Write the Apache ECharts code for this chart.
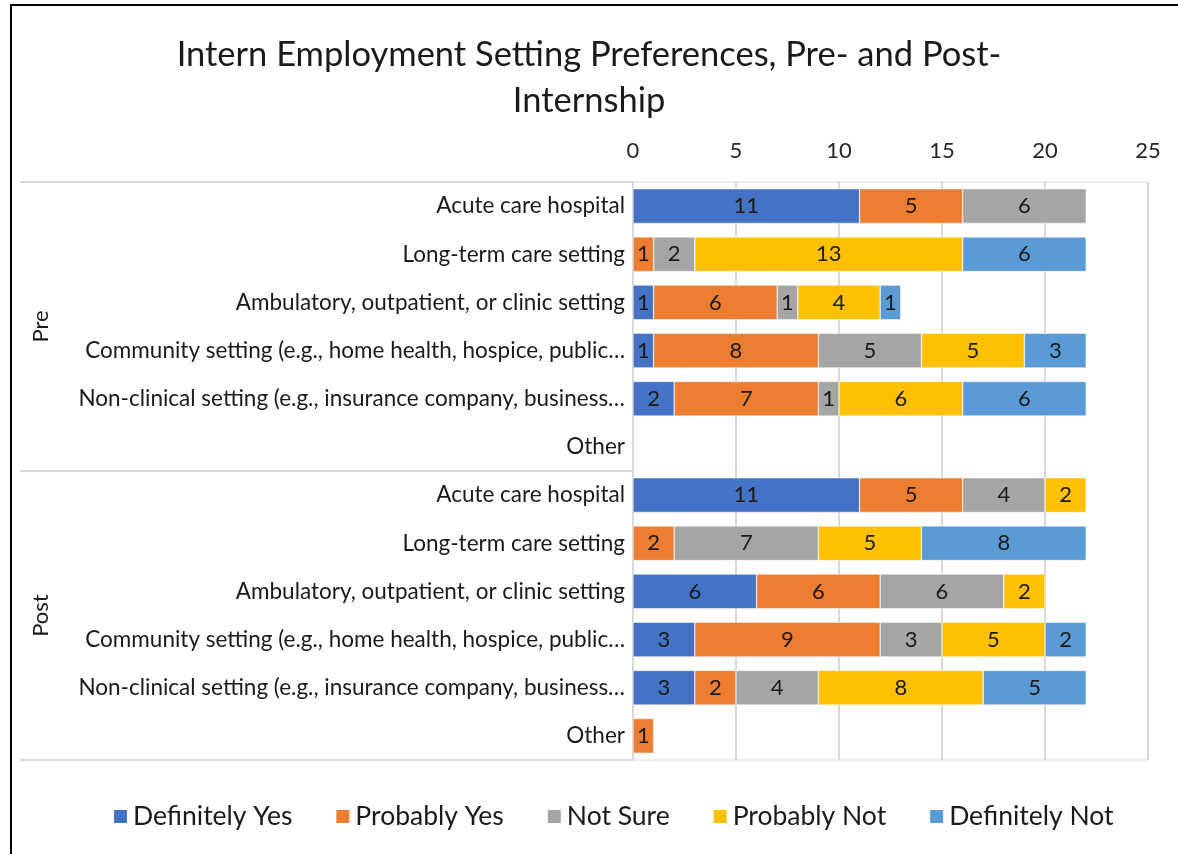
<!DOCTYPE html>
<html>
<head>
<meta charset="utf-8">
<script src="https://cdn.jsdelivr.net/npm/echarts@6/dist/echarts.min.js"></script>
<style>html,body{margin:0;padding:0;background:#fff}#c{width:1178px;height:854px}</style>
</head>
<body>
<div id="c"></div>
<script>
const groups = ['Pre', 'Post'];
const settings = [
  'Acute care hospital',
  'Long-term care setting',
  'Ambulatory, outpatient, or clinic setting',
  'Community setting (e.g., home health, hospice, public…',
  'Non-clinical setting (e.g., insurance company, business…',
  'Other'
];
const seriesNames = ['Definitely Yes', 'Probably Yes', 'Not Sure', 'Probably Not', 'Definitely Not'];
const colors = ['#4472C4', '#ED7D31', '#A5A5A5', '#FFC000', '#5B9BD5'];
const xTicks = [0, 5, 10, 15, 20, 25];
// values per series, rows: Pre(6 settings) then Post(6 settings)
const definitelyYes = [11, null, 1, 1, 2, null,   11, null, 6, 3, 3, null];
const probablyYes   = [5, 1, 6, 8, 7, null,       5, 2, 6, 9, 2, 1];
const notSure       = [6, 2, 1, 5, 1, null,       4, 7, 6, 3, 4, null];
const probablyNot   = [null, 13, 4, 5, 6, null,   2, 5, 2, 5, 8, null];
const definitelyNot = [null, 6, 1, 3, 6, null,    null, 8, null, 2, 5, null];
const seriesData = [definitelyYes, probablyYes, notSure, probablyNot, definitelyNot];

const FONT = 'Lato';
const cats = [];
groups.forEach(g => settings.forEach(s => cats.push(g + '|' + s)));

const chart = echarts.init(document.getElementById('c'));
chart.setOption({
  animation: false,
  textStyle: { fontFamily: FONT },
  title: {
    text: 'Intern Employment Setting Preferences, Pre- and Post-\nInternship',
    left: 'center', top: 27,
    textStyle: { fontFamily: FONT, fontSize: 34.5, fontWeight: 'normal', color: '#1a1a1a', lineHeight: 46 }
  },
  legend: {
    bottom: 19, left: 107,
    itemWidth: 15, itemHeight: 15, itemGap: 42,
    icon: 'rect',
    textStyle: { fontFamily: FONT, fontSize: 26.5, color: '#1a1a1a' },
    data: seriesNames
  },
  grid: { left: 633, right: 30, top: 182, bottom: 94, show: true, borderColor: '#d9d9d9', borderWidth: 1 },
  xAxis: {
    type: 'value', position: 'top', min: 0, max: xTicks[xTicks.length - 1], interval: xTicks[1] - xTicks[0],
    axisLine: { show: false }, axisTick: { show: false },
    axisLabel: { fontFamily: FONT, fontSize: 22, color: '#262626', margin: 20 },
    splitLine: { lineStyle: { color: '#d9d9d9', width: 2 } }
  },
  yAxis: [{
    type: 'category', inverse: true, data: cats,
    axisLine: { lineStyle: { color: '#d9d9d9', width: 2 } }, axisTick: { show: false },
    axisLabel: { fontFamily: FONT, fontSize: 22.5, color: '#1a1a1a', margin: 8,
      formatter: v => v.split('|')[1] }
  }, {
    type: 'category', inverse: true, data: groups, position: 'left', offset: 613,
    axisLine: { show: false },
    axisTick: { show: true, inside: true, length: 613, lineStyle: { color: '#d9d9d9', width: 2 } },
    axisLabel: { inside: true, rotate: 90, fontFamily: FONT, fontSize: 22, color: '#1a1a1a', margin: 10 }
  }],
  series: seriesNames.map((n, i) => ({
    name: n, type: 'bar', stack: 'total', yAxisIndex: 0,
    barWidth: '72%',
    itemStyle: { color: colors[i], borderColor: '#fff', borderWidth: 0.5 },
    label: { show: true, position: 'inside', fontFamily: FONT, fontSize: 22, color: '#1a1a1a' },
    data: seriesData[i]
  })),
  graphic: [{
    type: 'rect', shape: { x: 11, y: 5, width: 1200, height: 900 },
    style: { fill: 'none', stroke: '#000', lineWidth: 2 }, silent: true
  }]
});
</script>
</body>
</html>
